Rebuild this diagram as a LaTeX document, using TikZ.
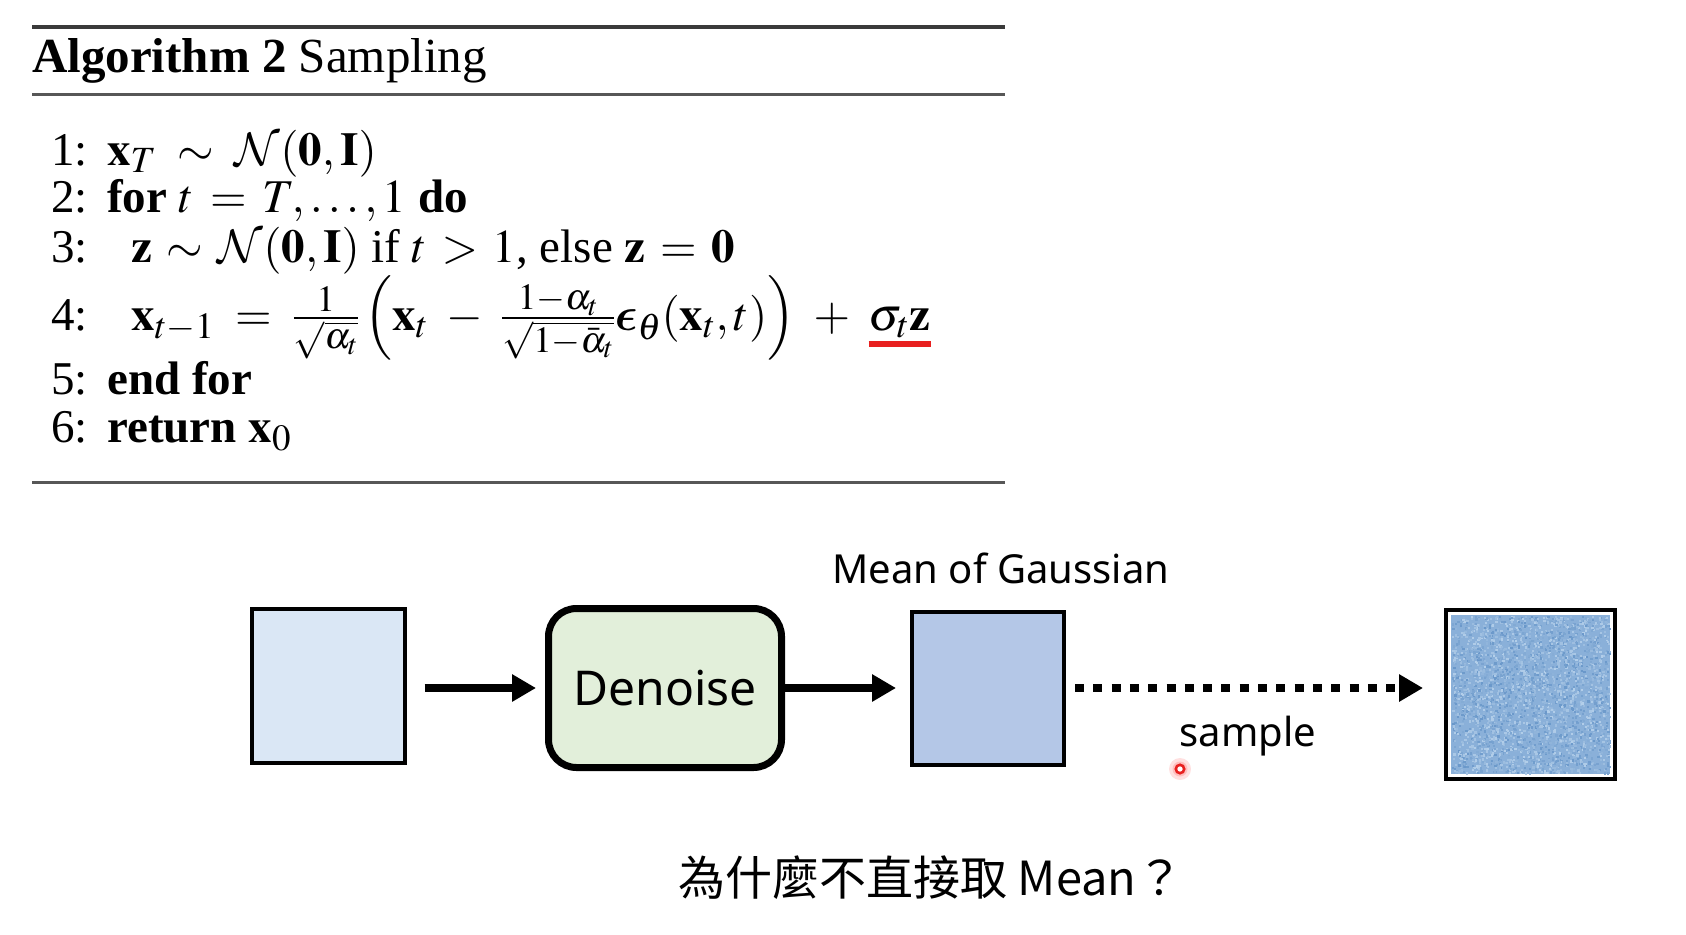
\RequirePackage{fix-cm}
\documentclass[tikz,border=0pt]{standalone}
\usepackage{amsmath}
\usepackage{mathptmx}
\usepackage[no-math]{fontspec}
\setmainfont{Liberation Serif}
\newfontfamily\uisans{Noto Sans}
\newfontfamily\cjk{Noto Sans CJK TC}
\DeclareSymbolFont{cmsymbols}{OMS}{cmsy}{m}{n}
\DeclareSymbolFontAlphabet{\cmcal}{cmsymbols}
\DeclareSymbolFont{cmboldletters}{OML}{cmm}{b}{it}
\DeclareMathSymbol{\bepsilon}{\mathord}{cmboldletters}{"0F}
\DeclareMathSizes{47}{47}{37}{29}
\usetikzlibrary{arrows.meta,calc}
\definecolor{boxA}{HTML}{DAE7F5}
\definecolor{boxB}{HTML}{B4C7E7}
\definecolor{greenbox}{HTML}{E2EFDA}
\definecolor{ndark}{HTML}{6A98CA}
\definecolor{nlight}{HTML}{B4CFEA}
\definecolor{nbase}{HTML}{8AB0D9}
\definecolor{rulegray}{HTML}{3A3A3A}
\definecolor{redline}{HTML}{E8201F}
\begin{document}
\begin{tikzpicture}[x=1pt,y=-1pt,
  algo/.style={anchor=base west,inner sep=0pt,font=\fontsize{47}{50}\selectfont},
  ttl/.style={anchor=base west,inner sep=0pt,font=\fontsize{49}{52}\selectfont},
  imgbox/.style={draw=black,line width=4pt,inner sep=0pt},
  procbox/.style={draw=black,line width=7pt,rounded corners=28pt,fill=greenbox,inner sep=0pt,
     font=\uisans\fontsize{48}{56}\selectfont},
  lbl/.style={inner sep=0pt,font=\uisans\fontsize{40}{48}\selectfont},
  arr/.style={line width=8pt,-{Triangle[length=24pt,width=26pt]}},
  dotarr/.style={line width=8pt,dash pattern=on 9pt off 9.3pt,-{Triangle[length=24pt,width=26pt]}},
]
\useasboundingbox[fill=white] (0,0) rectangle (1686,934);

% rules
\draw[rulegray,line width=4pt] (32,27) -- (1005,27);
\draw[rulegray!85,line width=3pt] (32,94) -- (1005,94);
\draw[rulegray!85,line width=3pt] (32,482) -- (1005,482);

% title
\node[ttl] (title) at (32,72) {\textbf{Algorithm 2} Sampling};

% algorithm lines
\node[algo] (n1) at (51,165) {1:};
\node[algo] (c1) at (107,165) {$\thickmuskip=8mu\mathbf{x}_T\sim\cmcal{N}(\mathbf{0},\mathbf{I})$};
\node[algo] (n2) at (51,212) {2:};
\node[algo] (c2) at (107,212) {\textbf{for} $\thickmuskip=6.2mu t=T,\dots,1$ \textbf{do}};
\node[algo] (n3) at (51,262) {3:};
\node[algo] (c3) at (131,262) {$\thickmuskip=5.6mu\mathbf{z}\sim\cmcal{N}(\mathbf{0},\mathbf{I})$ if $\thickmuskip=5.6mu t>1$, else $\thickmuskip=5.6mu\mathbf{z}=\mathbf{0}$};
\node[algo] (n4) at (51,330) {4:};
\node[algo] (c4) at (131,330) {$\thickmuskip=8mu\medmuskip=7mu\mathbf{x}_{t-1}=\frac{1}{\sqrt{\alpha_t}}\left(\mathbf{x}_t-\frac{1-\alpha_t}{\sqrt{1-\bar\alpha_t}}\bepsilon_\theta(\mathbf{x}_t,t)\right)+{}$};
\node[algo] (c4b) at (c4.base east) {$\sigma_t\mathbf{z}$};
\node[algo] (n5) at (51,394) {5:};
\node[algo] (c5) at (107,394) {\textbf{end for}};
\node[algo] (n6) at (51,442) {6:};
\node[algo] (c6) at (107,442) {\textbf{return} $\mathbf{x}_0$};
\draw[redline,line width=6pt] ($(c4b.base west)+(0,14)$) -- ($(c4b.base east)+(0,14)$);

% diagram
\node[imgbox,fill=boxA,minimum width=153pt,minimum height=154pt] (inp) at (328,686) {};
\node[procbox,minimum width=233pt,minimum height=159pt] (den) at (665,688) {Denoise};
\node[imgbox,fill=boxB,minimum width=152pt,minimum height=153pt] (mean) at (988,688) {};
\node[imgbox,minimum width=169pt,minimum height=169pt] (noise) at (1530.5,694) {};
\fill[nbase] ([shift={(7,7)}]noise.north west) rectangle ([shift={(-7,-7)}]noise.south east);
\pgfmathsetseed{7}
\foreach \i in {1,...,3200}{
  \pgfmathsetmacro{\dx}{rnd*157-78.5}
  \pgfmathsetmacro{\dy}{rnd*157-78.5}
  \pgfmathsetmacro{\pc}{int(rnd*100)}
  \fill[nlight!\pc!ndark] ($(noise.center)+(\dx,\dy)$) rectangle ++(2.2,2.2);
}

\node[lbl,anchor=base] (meanlbl) at (1001,583) {Mean of Gaussian};
\node[lbl,anchor=base] (samplbl) at (1248,746) {sample};

\draw[arr,shorten <=18pt,shorten >=9pt] (inp.east |- den.center) -- (den.west);
\draw[arr,shorten <=0pt,shorten >=14pt] (den.east) -- (mean.west |- den.center);
\draw[dotarr,shorten <=9pt,shorten >=21pt] (mean.east) -- (noise.west |- mean.east);

% cursor
\coordinate (cur) at (1180,769);
\fill[red,opacity=0.12] (cur) circle (11pt);
\fill[red,opacity=0.15] (cur) circle (7.5pt);
\draw[redline,line width=2.6pt,fill=white] (cur) circle (4.2pt);

% question
\node[inner sep=0pt,anchor=base,font=\cjk\fontsize{47}{54}\selectfont] (q) at (931,895) {為什麼不直接取 Mean？};
\end{tikzpicture}
\end{document}
